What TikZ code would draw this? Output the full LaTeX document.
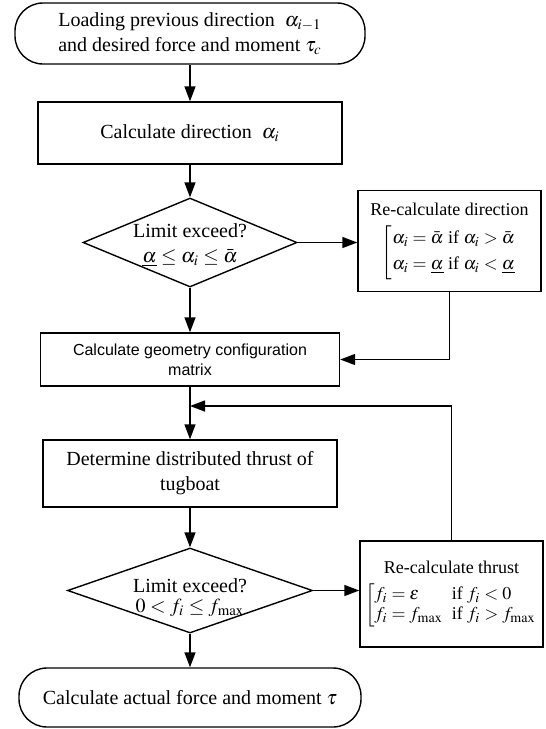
\documentclass[tikz,border=0pt]{standalone}
\usepackage{amsmath,amssymb}
\usepackage{mathptmx}
\usepackage{fontspec}
\setmainfont{Liberation Serif}
\setsansfont{Liberation Sans}
\usepackage{tikz}
\usetikzlibrary{shapes.geometric,arrows.meta}
% text that does not widen the diamond around it
\newcommand{\flattext}[2][-3.5pt]{\smash{\makebox[0pt]{\raisebox{#1}{\begin{tabular}{@{}c@{}}#2\end{tabular}}}}}

\begin{document}
\begin{tikzpicture}[
  x=0.5pt, y=-0.5pt,
  font=\fontsize{10}{12.5}\selectfont,
  box/.style={rectangle, draw, line width=0.7pt, align=center, inner sep=2pt},
  term/.style={rectangle, rounded corners=14pt, draw, line width=0.7pt,
    align=center, inner sep=2pt},
  test/.style={diamond, draw, line width=0.7pt, inner sep=0pt},
  flow/.style={-{Triangle[length=7.5pt,width=5.5pt]}, line width=0.7pt},
]
\useasboundingbox (0,0) rectangle (546,729);

% main column
\node[term, minimum width=175pt, minimum height=30.5pt]
  (load) at (190,33.5) {Loading previous direction~~$\alpha_{i-1}$\\
    and desired force and moment $\tau_c$};
\node[box, minimum width=152pt, minimum height=31pt]
  (dir) at (190,133) {Calculate direction~~$\alpha_i$};
\node[test, minimum width=107pt, minimum height=44.5pt]
  (limdir) at (190,242.5) {\flattext{Limit exceed?\\
    $\underline{\alpha}\le\alpha_i\le\bar{\alpha}$}};
\node[box, minimum width=149.5pt, minimum height=26.5pt,
  font=\sffamily\fontsize{8}{10}\selectfont]
  (geom) at (190,359.5) {Calculate geometry configuration\\matrix};
\node[box, minimum width=147pt, minimum height=33.5pt]
  (thrust) at (190,473.5) {Determine distributed thrust of\\tugboat};
\node[test, minimum width=122.5pt, minimum height=42.5pt]
  (limthr) at (190,590.5) {\flattext[-6pt]{Limit exceed?\\[-2.5pt]
    $0<f_i\le f_{\max}$}};
\node[term, minimum width=171pt, minimum height=29.5pt]
  (done) at (190,697.5) {Calculate actual force and moment $\tau$};

% correction boxes on the right
\node[box, minimum width=91.5pt, minimum height=50.5pt,
  font=\fontsize{9}{11}\selectfont]
  (redir) at (449.5,241) {Re-calculate direction\\[4pt]
    $\left[\begin{array}{@{}l@{}}
      \alpha_i=\bar{\alpha}\ \text{if}\ \alpha_i>\bar{\alpha}\\[2pt]
      \alpha_i=\underline{\alpha}\ \text{if}\ \alpha_i<\underline{\alpha}
    \end{array}\right.$};
\node[box, minimum width=91.5pt, minimum height=53pt,
  font=\fontsize{9}{11}\selectfont]
  (rethrust) at (451.5,594) {Re-calculate thrust\\[4pt]
    $\left[\begin{array}{@{}l@{\ \ }l@{}}
      f_i=\varepsilon & \text{if}\ f_i<0\\[-1pt]
      f_i=f_{\max} & \text{if}\ f_i>f_{\max}
    \end{array}\right.$};

\coordinate (join) at (190,406);

\draw[flow] (load) -- (dir);
\draw[flow] (dir) -- (limdir);
\draw[flow] (limdir.east) -- (limdir.east -| redir.west);
\draw[flow] (limdir.south) -- (geom.north);
\draw[flow] (redir.south) |- (geom.east);
\draw[flow] (geom.south) -- (thrust.north);
\draw[flow] (rethrust.north) |- (join);
\draw[flow] (thrust.south) -- (limthr.north);
\draw[flow] (limthr.east) -- (limthr.east -| rethrust.west);
\draw[flow] (limthr.south) -- (done.north);
\end{tikzpicture}
\end{document}
